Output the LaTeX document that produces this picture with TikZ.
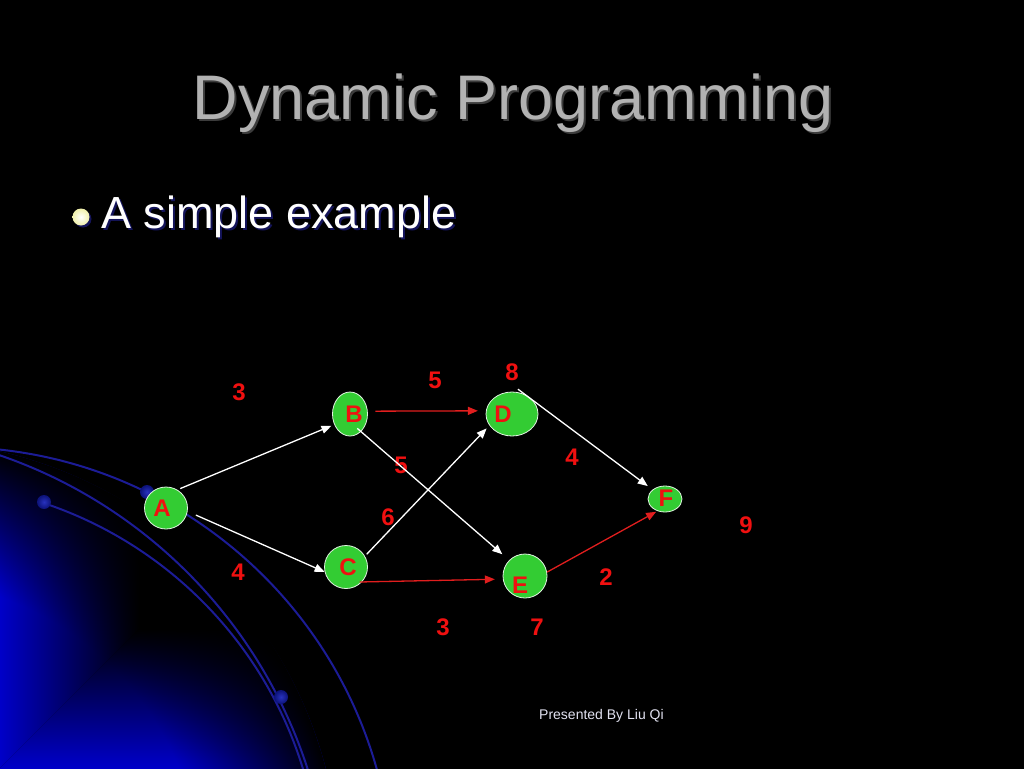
\documentclass[tikz,border=0pt]{standalone}
\usepackage{fontspec}
\setmainfont{Liberation Sans}
\usetikzlibrary{shapes.geometric,arrows.meta,fadings}
\definecolor{nodegreen}{RGB}{51,204,51}
\definecolor{nodeedge}{RGB}{225,245,225}
\definecolor{labred}{RGB}{240,16,16}
\definecolor{edgered}{RGB}{225,30,30}
\definecolor{orbit}{RGB}{28,28,150}
\definecolor{dotin}{RGB}{40,50,190}
\definecolor{dotout}{RGB}{12,18,120}
\definecolor{glowblue}{RGB}{0,0,200}
\definecolor{glowmid}{RGB}{0,0,62}
\definecolor{titlegray}{RGB}{178,178,178}
\definecolor{titleshadow}{RGB}{60,60,60}
\definecolor{navyshadow}{RGB}{20,20,90}
\definecolor{bulletyellow}{RGB}{240,240,170}
\definecolor{footercol}{RGB}{225,225,240}
\pgfdeclareradialshading{rimshade}{\pgfpointorigin}{color(0bp)=(black); color(17bp)=(black); color(25bp)=(white); color(50bp)=(white)}
\pgfdeclarefading{rimfade}{\pgfuseshading{rimshade}}
\begin{document}
\begin{tikzpicture}[x=1pt,y=-1pt,
  vert/.style={ellipse, fill=nodegreen, draw=nodeedge, line width=0.8pt, inner sep=0pt},
  lett/.style={text=labred, font=\fontsize{24}{24}\selectfont\bfseries, inner sep=0pt},
  wlabel/.style={text=labred, font=\fontsize{24}{24}\selectfont\bfseries, inner sep=0pt},
  wedge/.style={draw=white, line width=1.3pt, -{Triangle[length=10pt,width=8pt]}},
  redge/.style={draw=edgered, line width=1.3pt, -{Triangle[length=10pt,width=8pt]}},
  orbitline/.style={draw=orbit, line width=2pt},
  titletext/.style={font=\fontsize{63}{63}\selectfont, inner sep=0pt, anchor=base},
  subtext/.style={font=\fontsize{45}{45}\selectfont, inner sep=0pt, anchor=base west},
]
\useasboundingbox (0,0) rectangle (1024,768);
\fill[black] (-10,-10) rectangle (1034,778);
\clip (0,0) rectangle (1024,768);

% planet glow
\coordinate (pc) at (-100,880);
\begin{scope}
  \clip (pc) circle[radius=440pt];
  \begin{scope}
    \clip (-40,808) -- (-40,300) -- (468,300) -- cycle;
    \shade[left color=glowblue, middle color=glowmid, right color=black] (0,300) rectangle (140,820);
  \end{scope}
  \begin{scope}
    \clip (-40,808) -- (500,268) -- (500,820) -- (-40,820) -- cycle;
    \shade[bottom color=glowblue, middle color=glowmid, top color=black] (-40,628) rectangle (500,768);
  \end{scope}
\end{scope}
\fill[black, path fading=rimfade] (pc) circle[radius=440pt];

% orbits
\draw[orbitline] (-48,888) circle[radius=441pt];
\draw[orbitline] (-159,919) circle[radius=490pt];
\begin{scope}
  \clip (43,0) rectangle (1024,768);
  \draw[orbitline] (-84,887) circle[radius=404.5pt];
\end{scope}
\foreach \x/\y in {44/502,147/492,281/697}
  \shade[inner color=dotin, outer color=dotout] (\x,\y) circle[radius=7pt];

% title and bullet
\node[titletext, text=titleshadow] (titlesh) at (515,121) {Dynamic Programming};
\node[titletext, text=titlegray] (title) at (513,119) {Dynamic Programming};
\fill[navyshadow] (83,219) circle[radius=8.5pt];
\shade[inner color=white, outer color=bulletyellow] (81,217) circle[radius=8.5pt];
\node[subtext, text=navyshadow] (subsh) at (103,230) {A simple example};
\node[subtext, text=white] (sub) at (101,228) {A simple example};
\node[anchor=base west, font=\fontsize{14}{14}\selectfont, text=footercol, inner sep=0pt] (footer) at (539,719) {Presented By Liu Qi};

% graph nodes
\node[vert, minimum width=43pt, minimum height=42pt, label={[lett,xshift=-4pt]center:A}] (A) at (166,508) {};
\node[vert, minimum width=35pt, minimum height=44pt, label={[lett,xshift=4pt]center:B}] (B) at (350,414) {};
\node[vert, minimum width=43pt, minimum height=43pt, label={[lett,xshift=2pt]center:C}] (C) at (346,567) {};
\node[vert, minimum width=52pt, minimum height=44pt, label={[lett,xshift=-9pt]center:D}] (D) at (512,414) {};
\node[vert, minimum width=44pt, minimum height=44pt, label={[lett,xshift=-5pt,yshift=-9pt]center:E}] (E) at (525,576) {};
\node[vert, minimum width=34pt, minimum height=26pt, label={[lett,xshift=1pt,yshift=1pt]center:F}] (F) at (665,499) {};

% weights
\node[wlabel] (w1) at (239,392) {3};
\node[wlabel] (w2) at (435,380) {5};
\node[wlabel] (w3) at (512,372) {8};
\node[wlabel] (w4) at (401,465) {5};
\node[wlabel] (w5) at (572,457) {4};
\node[wlabel] (w6) at (388,517) {6};
\node[wlabel] (w7) at (746,525) {9};
\node[wlabel] (w8) at (238,572) {4};
\node[wlabel] (w9) at (606,577) {2};
\node[wlabel] (w10) at (443,627) {3};
\node[wlabel] (w11) at (537,627) {7};

% edges
\draw[wedge, shorten <=3pt, shorten >=3pt] (A.58) -- (B.214);
\draw[wedge, shorten <=9pt] (A.-9) -- (C.193);
\draw[redge, shorten <=7.5pt, shorten >=8pt] (B.9) -- (D.173);
\draw[wedge, shorten <=-5pt, shorten >=9pt] (B.-58) -- (E.135);
\draw[wedge, shorten <=2.5pt, shorten >=4pt] (C.30) -- (D.207);
\draw[redge, shorten <=-2.5pt, shorten >=8pt] (C.-43) -- (E.188);
\draw[wedge, shorten <=-9pt, shorten >=6pt] (D.56) -- (F.143);
\draw[redge, shorten >=1.5pt] (E.10) -- (F.238);
\end{tikzpicture}
\end{document}
